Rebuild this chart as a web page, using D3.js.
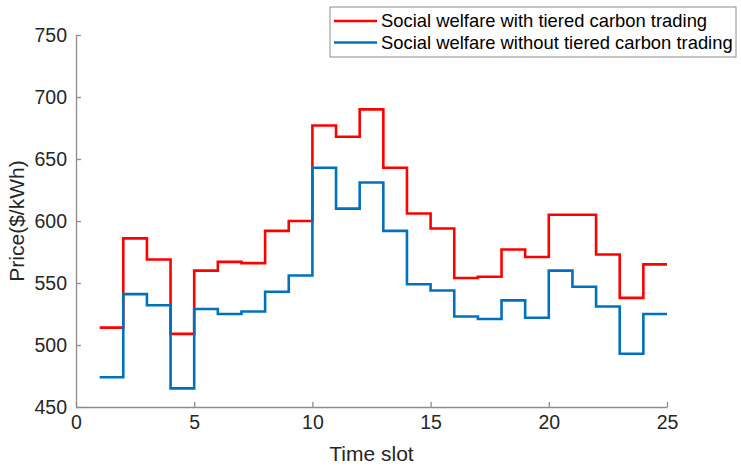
<!DOCTYPE html>
<html>
<head>
<meta charset="utf-8">
<script src="https://cdn.jsdelivr.net/npm/d3@7"></script>
<style>
  body { margin: 0; background: #fff; }
  text { font-family: "Liberation Sans", Arial, sans-serif; }
</style>
</head>
<body>
<svg width="741" height="467"></svg>
<script>
// time slots and prices
var slots = d3.range(1, 25);
var withTiered = [514, 586, 569, 509, 560, 567, 566, 592, 600, 677, 668, 690,
                  643, 606, 594, 554, 555, 577, 571, 605, 605, 573, 538, 565];
var withoutTiered = [474, 541, 532, 465, 529, 525, 527, 543, 556, 643, 610, 631,
                     592, 549, 544, 523, 521, 536, 522, 560, 547, 531, 493, 525];
var xTicks = [0, 5, 10, 15, 20, 25];
var yTicks = [450, 500, 550, 600, 650, 700, 750];
var seriesNames = ['Social welfare with tiered carbon trading',
                   'Social welfare without tiered carbon trading'];
var colors = ['#ff0000', '#0072bd'];

var margin = {top: 35, right: 74, bottom: 60, left: 76};
var width = 741 - margin.left - margin.right;
var height = 467 - margin.top - margin.bottom;

var svg = d3.select('svg');
var g = svg.append('g')
  .attr('transform', 'translate(' + margin.left + ',' + margin.top + ')');

var x = d3.scaleLinear().domain([0, 25]).range([0, width]);
var y = d3.scaleLinear().domain([450, 750]).range([height, 0]);

// axes (matlab style, ticks inside)
var xAxis = g.append('g')
  .attr('transform', 'translate(0,' + height + ')')
  .call(d3.axisBottom(x).tickValues(xTicks).tickSizeInner(-5).tickSizeOuter(0).tickPadding(8));
var yAxis = g.append('g')
  .call(d3.axisLeft(y).tickValues(yTicks).tickSizeInner(-5).tickSizeOuter(0).tickPadding(9));

[xAxis, yAxis].forEach(function(ax) {
  ax.select('.domain').attr('stroke', '#8c8c8c').attr('stroke-width', 1.3);
  ax.selectAll('.tick line').attr('stroke', '#8c8c8c').attr('stroke-width', 1.3);
  ax.selectAll('.tick text').attr('fill', '#262626').style('font-size', '19.5px');
});

// stairs
var line = d3.line()
  .x(d => x(d[0]))
  .y(d => y(d[1]))
  .curve(d3.curveStepAfter);

[withTiered, withoutTiered].forEach(function(vals, i) {
  var pts = slots.map((s, j) => [s, vals[j]]);
  pts.push([slots[slots.length - 1] + 1, vals[vals.length - 1]]);
  g.append('path')
    .datum(pts)
    .attr('fill', 'none')
    .attr('stroke', colors[i])
    .attr('stroke-width', 2.6)
    .attr('d', line);
});

// axis labels
svg.append('text')
  .attr('x', margin.left + width / 2)
  .attr('y', 461)
  .attr('text-anchor', 'middle')
  .attr('fill', '#262626')
  .style('font-size', '21px')
  .text('Time slot');

svg.append('text')
  .attr('transform', 'translate(24,' + (margin.top + height / 2) + ') rotate(-90)')
  .attr('text-anchor', 'middle')
  .attr('fill', '#262626')
  .style('font-size', '21px')
  .text('Price($/kWh)');

// legend
var legend = svg.append('g').attr('transform', 'translate(330,7)');
legend.append('rect')
  .attr('width', 406).attr('height', 50)
  .attr('fill', '#fff').attr('stroke', '#8c8c8c').attr('stroke-width', 1);
seriesNames.forEach(function(name, i) {
  var row = legend.append('g').attr('transform', 'translate(0,' + (14 + i * 21.5) + ')');
  row.append('line')
    .attr('x1', 4).attr('x2', 47)
    .attr('stroke', colors[i]).attr('stroke-width', 2.6);
  row.append('text')
    .attr('x', 51).attr('dy', '0.35em')
    .attr('fill', '#000')
    .style('font-size', '18.4px')
    .text(name);
});
</script>
</body>
</html>
